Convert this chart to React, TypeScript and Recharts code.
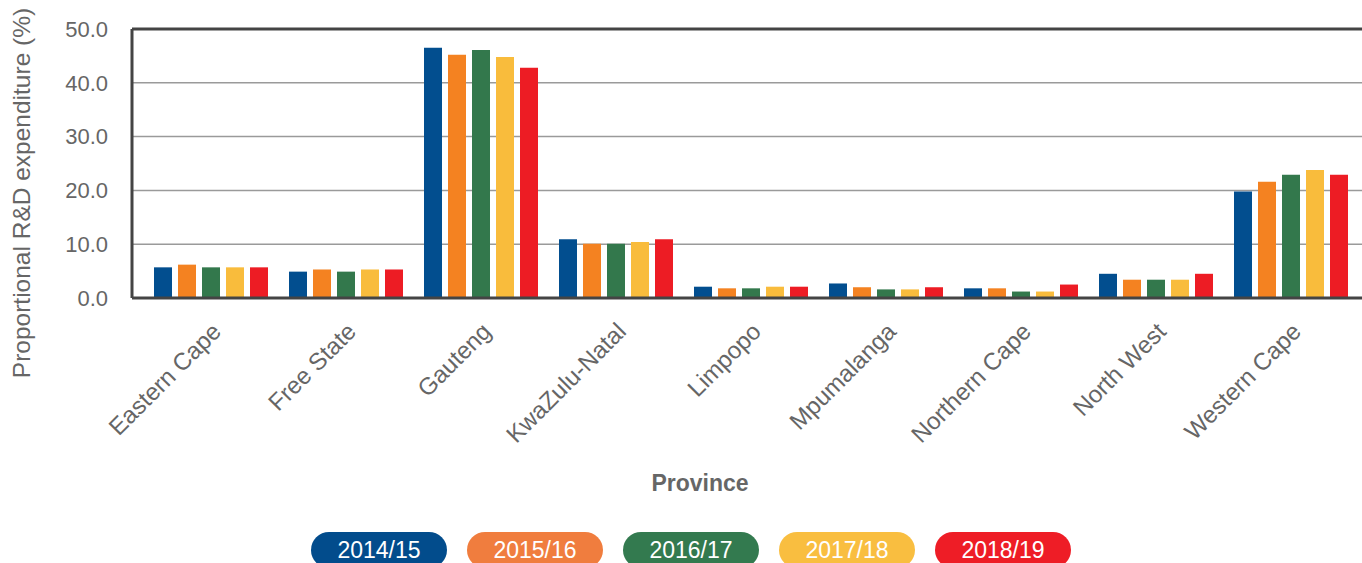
import React from 'react';
import { BarChart, Bar, XAxis, YAxis, CartesianGrid, ReferenceLine, Legend } from 'recharts';

const provinces = ['Eastern Cape', 'Free State', 'Gauteng', 'KwaZulu-Natal', 'Limpopo', 'Mpumalanga', 'Northern Cape', 'North West', 'Western Cape'];
const y2014 = [5.7, 4.9, 46.5, 10.9, 2.1, 2.7, 1.8, 4.5, 19.8];
const y2015 = [6.2, 5.3, 45.2, 10.1, 1.8, 2.0, 1.8, 3.4, 21.6];
const y2016 = [5.7, 4.9, 46.1, 10.1, 1.8, 1.6, 1.2, 3.4, 22.9];
const y2017 = [5.7, 5.3, 44.8, 10.4, 2.1, 1.6, 1.2, 3.4, 23.8];
const y2018 = [5.7, 5.3, 42.8, 10.9, 2.1, 2.0, 2.5, 4.5, 22.9];
const seriesNames = ['2014/15', '2015/16', '2016/17', '2017/18', '2018/19'];
const seriesKeys = ['y2014', 'y2015', 'y2016', 'y2017', 'y2018'];
const colors = ['#024E8F', '#F48221', '#33784C', '#F9BC3C', '#ED1C24'];
const legendColors = ['#024C8C', '#F07D3E', '#337A4F', '#F9BE40', '#EE1D26'];
const yTicks = [0, 10, 20, 30, 40, 50];

const data = provinces.map((p, i) => ({
  province: p,
  y2014: y2014[i],
  y2015: y2015[i],
  y2016: y2016[i],
  y2017: y2017[i],
  y2018: y2018[i],
}));

const FONT = '"Liberation Sans", Arial, sans-serif';
const GREY = '#666666';

const YLabel = () => (
  <text
    x={21}
    y={193}
    transform="rotate(-90, 21, 193)"
    textAnchor="middle"
    dominantBaseline="central"
    fill={GREY}
    fontSize={24.5}
    fontFamily={FONT}
  >
    Proportional R&amp;D expenditure (%)
  </text>
);

const LegendPills = () => (
  <div style={{ display: 'flex', gap: 20, fontFamily: FONT }}>
    {seriesNames.map((n, i) => (
      <div
        key={n}
        style={{
          width: 136,
          height: 36,
          borderRadius: 18,
          background: legendColors[i],
          color: '#fff',
          fontSize: 23,
          lineHeight: '36px',
          textAlign: 'center',
        }}
      >
        {n}
      </div>
    ))}
  </div>
);

export default function App() {
  return (
    <div style={{ position: 'absolute', left: 0, top: 0, width: 1362, height: 563, overflow: 'hidden', background: '#fff' }}>
      <BarChart
        width={1362}
        height={563}
        data={data}
        margin={{ top: 29, right: 0, left: 0, bottom: 34 }}
        barSize={18}
        barGap={6}
      >
        <CartesianGrid horizontal vertical={false} stroke="#9a9a9a" strokeWidth={1.5} />
        <XAxis
          dataKey="province"
          interval={0}
          padding={{ left: 11, right: 4 }}
          axisLine={{ stroke: '#444', strokeWidth: 3 }}
          tickLine={false}
          height={195}
          tick={{ fill: GREY, fontSize: 24, fontFamily: FONT, angle: -45, textAnchor: 'end' }}
          tickMargin={17}
          label={{ value: 'Province', position: 'insideBottom', offset: 2, dx: -47, fill: GREY, fontSize: 23, fontWeight: 'bold', fontFamily: FONT }}
        />
        <YAxis
          domain={[0, 50]}
          ticks={yTicks}
          width={132}
          axisLine={{ stroke: '#444', strokeWidth: 3 }}
          tickLine={false}
          tickSize={0}
          tickMargin={24}
          tickFormatter={(v: number) => v.toFixed(1)}
          tick={{ fill: GREY, fontSize: 22, fontFamily: FONT }}
          label={<YLabel />}
        />
        <ReferenceLine y={50} stroke="#444" strokeWidth={3} />
        {seriesKeys.map((k, i) => (
          <Bar key={k} dataKey={k} name={seriesNames[i]} fill={colors[i]} isAnimationActive={false} />
        ))}
        <Legend
          content={<LegendPills />}
          wrapperStyle={{ position: 'absolute', top: 532, left: 311, width: 'auto', bottom: 'auto' }}
        />
      </BarChart>
    </div>
  );
}
